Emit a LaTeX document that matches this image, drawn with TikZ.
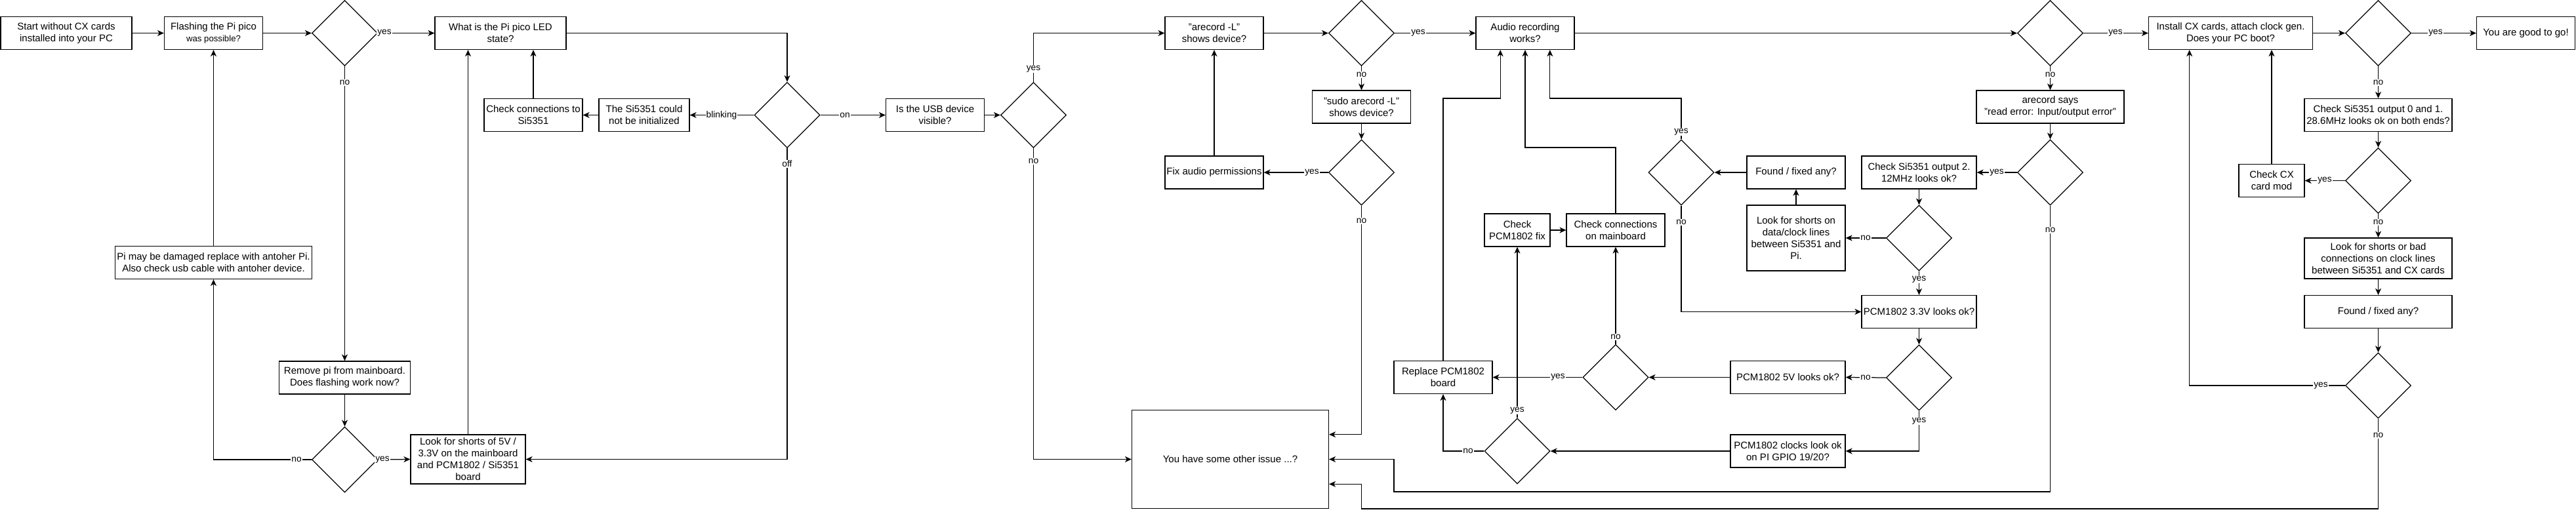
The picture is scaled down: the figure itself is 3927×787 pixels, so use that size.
\documentclass[tikz,border=0pt]{standalone}
\usepackage{fontspec}
\setmainfont{Liberation Sans}
\usetikzlibrary{arrows.meta,shapes.geometric,calc}
\newcommand\boxfont{\fontsize{15}{18}\selectfont}
\newcommand\lblfont{\fontsize{13.75}{16}\selectfont}
\newcommand\smallboxfont{\fontsize{13.2}{18}\selectfont}
\tikzset{
  box/.style={draw, rectangle, line width=1.25pt, minimum height=50pt, inner sep=2pt, align=center, font=\boxfont},
  dec/.style={draw, diamond, aspect=1, minimum width=100pt, minimum height=100pt, inner sep=0pt, line width=1.25pt},
  arr/.style={line width=1.25pt, -{Stealth[length=10pt,width=9pt,inset=3pt]}},
  lbl/.style={fill=white, inner sep=1pt, font=\lblfont},
}
\begin{document}
\begin{tikzpicture}[x=1pt,y=-1pt]
\path[fill=white,use as bounding box] (0,0) rectangle (3927,787);

% ---- nodes ----
\node[box, minimum width=200pt] (start) at (101,50.5) {Start without CX cards\\installed into your PC};
\node[box, minimum width=150pt] (flash) at (325.5,50.5) {Flashing the Pi pico\\{\smallboxfont was possible?}};
\node[dec] (d1) at (525.5,50.5) {};
\node[box, minimum width=200pt] (what) at (763,50.5) {What is the Pi pico LED\\state?};
\node[dec] (d3) at (1200,175.5) {};
\node[box, minimum width=138pt] (si) at (982,175.5) {The Si5351 could\\not be initialized};
\node[box, minimum width=150pt] (chk) at (813,175.5) {Check connections to\\Si5351};
\node[box, minimum width=300pt] (pidmg) at (325.5,400.5) {Pi may be damaged replace with antoher Pi.\\Also check usb cable with antoher device.};
\node[box, minimum width=200pt] (remove) at (525.5,576) {Remove pi from mainboard.\\Does flashing work now?};
\node[dec] (d2) at (525.5,701) {};
\node[box, minimum width=175pt, minimum height=75pt] (look5v) at (713.5,700.5) {Look for shorts of 5V /\\3.3V on the mainboard\\and PCM1802 / Si5351\\board};
\node[box, minimum width=150pt] (usb) at (1425.5,175.5) {Is the USB device\\visible?};
\node[dec] (d4) at (1575.5,175.5) {};
\node[box, minimum width=150pt] (arec) at (1851,50.5) {"arecord -L"\\shows device?};
\node[box, minimum width=150pt] (fix) at (1851,263) {Fix audio permissions};
\node[dec] (d5) at (2075.5,50.5) {};
\node[box, minimum width=150pt] (sudo) at (2075.5,163) {"sudo arecord -L"\\shows device?};
\node[dec] (d6) at (2075.5,263) {};
\node[box, minimum width=300pt, minimum height=150pt] (other) at (1875.5,700.5) {You have some other issue ...?};
\node[box, minimum width=150pt] (audio) at (2325,50.5) {Audio recording\\works?};
\node[box, minimum width=150pt] (repl) at (2200,575.5) {Replace PCM1802\\board};
\node[box, minimum width=100pt] (pcmfix) at (2313,351) {Check\\PCM1802 fix};
\node[box, minimum width=150pt] (conn) at (2463,351) {Check connections\\on mainboard};
\node[dec] (d7) at (2563,263) {};
\node[dec] (d8) at (2463,575.5) {};
\node[dec] (d9) at (2313,688) {};
\node[box, minimum width=150pt] (found1) at (2738,263) {Found / fixed any?};
\node[box, minimum width=150pt, minimum height=100pt] (lookdata) at (2738,363) {Look for shorts on\\data/clock lines\\between Si5351 and\\Pi.};
\node[dec] (d10) at (3125.5,50.5) {};
\node[box, minimum width=225pt] (arsay) at (3125.5,163) {arecord says\\"read error: Input/output error"};
\node[dec] (d11) at (3125.5,263) {};
\node[box, minimum width=175pt] (out2) at (2925.5,263) {Check Si5351 output 2.\\12MHz looks ok?};
\node[dec] (d12) at (2925.5,363) {};
\node[box, minimum width=175pt] (pcm33) at (2925.5,475.5) {PCM1802 3.3V looks ok?};
\node[dec] (d13) at (2925.5,576) {};
\node[box, minimum width=175pt] (pcm5) at (2725.5,575.5) {PCM1802 5V looks ok?};
\node[box, minimum width=175pt] (pcmclk) at (2725.5,688) {PCM1802 clocks look ok\\on PI GPIO 19/20?};
\node[box, minimum width=250pt] (install) at (3400.5,50.5) {Install CX cards, attach clock gen.\\Does your PC boot?};
\node[dec] (d14) at (3625.5,50.5) {};
\node[box, minimum width=150pt] (good) at (3850.5,50.5) {You are good to go!};
\node[box, minimum width=225pt] (out01) at (3625.5,175.5) {Check Si5351 output 0 and 1.\\28.6MHz looks ok on both ends?};
\node[dec] (d15) at (3625.5,275.5) {};
\node[box, minimum width=100pt] (cxmod) at (3463,275.5) {Check CX\\card mod};
\node[box, minimum width=225pt, minimum height=62pt] (lookclk) at (3625.5,394) {Look for shorts or bad\\connections on clock lines\\between Si5351 and CX cards};
\node[box, minimum width=225pt] (found2) at (3625.5,475.5) {Found / fixed any?};
\node[dec] (d16) at (3625.5,588) {};

% ---- helper coordinates ----
\coordinate (a1) at ($(audio.south west)!0.25!(audio.south east)$);
\coordinate (a3) at ($(audio.south west)!0.75!(audio.south east)$);
\coordinate (i1) at ($(install.south west)!0.25!(install.south east)$);
\coordinate (i3) at ($(install.south west)!0.75!(install.south east)$);
\coordinate (o1) at ($(other.north east)!0.25!(other.south east)$);
\coordinate (o3) at ($(other.north east)!0.75!(other.south east)$);
\coordinate (v1) at (2200,150);
\coordinate (v2) at (2563,150);
\coordinate (v3) at (2463,225);
\coordinate (v4) at (3125.5,750);
\coordinate (v5) at (2125,750);
\coordinate (v6) at (3625.5,776);
\coordinate (v7) at (2075.5,776);

% ---- connectors ----
\draw[arr] (start) -- (flash);
\draw[arr] (flash) -- (d1);
\draw[arr] (d1.east) -- (what.west) node[lbl] at (586,50.5) {yes};
\draw[arr] (d1.south) -- (remove.north) node[lbl] at (525.5,126) {no};
\draw[arr] (remove) -- (d2);
\draw[arr] (d2.west) -| (pidmg.south) node[lbl] at (452,701) {no};
\draw[arr] (d2.east) -- (look5v.west) node[lbl] at (583,701) {yes};
\draw[arr] (pidmg.north) -- (flash.south);
\draw[arr] (look5v.north) -- (look5v.north |- what.south);
\draw[arr] (what.east) -| (d3.north);
\draw[arr] (d3.west) -- (si.east) node[lbl] at (1100,175.5) {blinking};
\draw[arr] (si.west) -- (chk.east);
\draw[arr] (chk.north) -- (chk.north |- what.south);
\draw[arr] (d3.east) -- (usb.west) node[lbl] at (1288,175.5) {on};
\draw[arr] (d3.south) |- (look5v.east) node[lbl] at (1200,250) {off};
\draw[arr] (usb) -- (d4);
\draw[arr] (d4.north) |- (arec.west) node[lbl] at (1575.5,105) {yes};
\draw[arr] (d4.south) |- (other.west) node[lbl] at (1575.5,246) {no};
\draw[arr] (arec) -- (d5);
\draw[arr] (d5.east) -- (audio.west) node[lbl] at (2162,50.5) {yes};
\draw[arr] (d5.south) -- (sudo.north) node[lbl] at (2075.5,114) {no};
\draw[arr] (sudo) -- (d6);
\draw[arr] (d6.west) -- (fix.east) node[lbl] at (2000,263) {yes};
\draw[arr] (fix) -- (arec);
\draw[arr] (d6.south) |- (o1) node[lbl] at (2075.5,337) {no};
\draw[arr] (audio.east) -- (d10.west);
\draw[arr] (repl.north) -- (v1) -| (a1);
\draw[arr] (conn.north) -- (v3) -| (audio.south);
\draw[arr] (d7.north) -- (v2) -| (a3) node[lbl] at (2563,201) {yes};
\draw[arr] (d7.south) |- (pcm33.west) node[lbl] at (2563,339) {no};
\draw[arr] (pcmfix) -- (conn);
\draw[arr] (found1.west) -- (d7.east);
\draw[arr] (lookdata) -- (found1);
\draw[arr] (d10.east) -- (install.west) node[lbl] at (3225,50.5) {yes};
\draw[arr] (d10.south) -- (arsay.north) node[lbl] at (3125.5,114) {no};
\draw[arr] (arsay) -- (d11);
\draw[arr] (d11.west) -- (out2.east) node[lbl] at (3044,263) {yes};
\draw[arr] (d11.south) -- (v4) -- (v5) |- (other.east) node[lbl] at (3125.5,351) {no};
\draw[arr] (out2) -- (d12);
\draw[arr] (d12.west) -- (lookdata.east) node[lbl] at (2844,363) {no};
\draw[arr] (d12.south) -- (pcm33.north) node[lbl] at (2925.5,426) {yes};
\draw[arr] (pcm33) -- (d13);
\draw[arr] (d13.west) -- (pcm5.east) node[lbl] at (2844,576) {no};
\draw[arr] (d13.south) |- (pcmclk.east) node[lbl] at (2925.5,642) {yes};
\draw[arr] (pcm5.west) -- (d8.east);
\draw[arr] (pcmclk.west) -- (d9.east);
\draw[arr] (d8.north) -- (conn.south) node[lbl] at (2463,514) {no};
\draw[arr] (d8.west) -- (repl.east) node[lbl] at (2375,575.5) {yes};
\draw[arr] (d9.north) -- (pcmfix.south) node[lbl] at (2313,626) {yes};
\draw[arr] (d9.west) -| (repl.south) node[lbl] at (2238,688) {no};
\draw[arr] (install) -- (d14);
\draw[arr] (d14.east) -- (good.west) node[lbl] at (3713,50.5) {yes};
\draw[arr] (d14.south) -- (out01.north) node[lbl] at (3625.5,126) {no};
\draw[arr] (out01) -- (d15);
\draw[arr] (d15.west) -- (cxmod.east) node[lbl] at (3544,275.5) {yes};
\draw[arr] (cxmod.north) -- (cxmod.north |- install.south);
\draw[arr] (d15.south) -- (lookclk.north) node[lbl] at (3625.5,339) {no};
\draw[arr] (lookclk) -- (found2);
\draw[arr] (found2) -- (d16);
\draw[arr] (d16.west) -| (i1) node[lbl] at (3538,588) {yes};
\draw[arr] (d16.south) -- (v6) -- (v7) |- (o3) node[lbl] at (3625.5,664) {no};
\end{tikzpicture}
\end{document}
